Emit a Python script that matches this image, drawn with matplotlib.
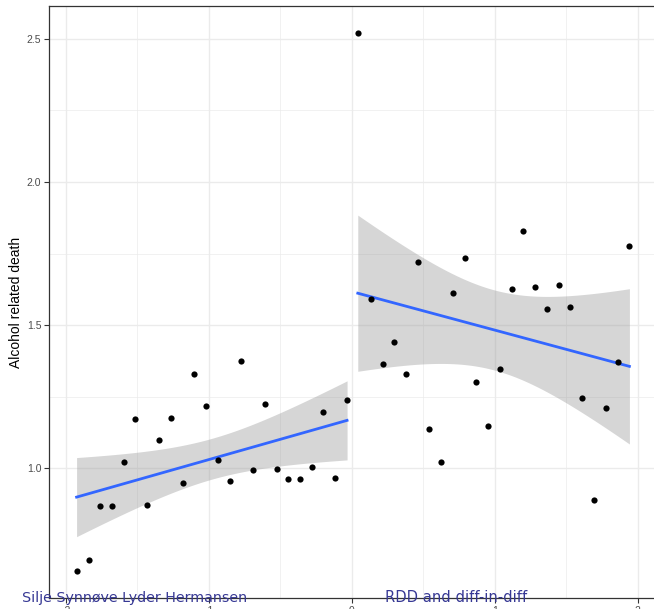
import numpy as np
import matplotlib.pyplot as plt

# running variable (centered) and outcome
x_left = [-1.925, -1.841, -1.762, -1.678, -1.594, -1.513, -1.431, -1.350,
          -1.266, -1.184, -1.103, -1.021, -0.937, -0.855, -0.774, -0.692,
          -0.608, -0.524, -0.443, -0.362, -0.280, -0.198, -0.114, -0.033]
y_left = [0.641, 0.679, 0.868, 0.868, 1.021, 1.172, 0.872, 1.099,
          1.176, 0.950, 1.330, 1.218, 1.029, 0.955, 1.374, 0.995,
          1.226, 0.999, 0.963, 0.963, 1.003, 1.197, 0.967, 1.239]

x_right = [0.042, 0.133, 0.215, 0.296, 0.380, 0.462, 0.543, 0.627,
           0.708, 0.790, 0.872, 0.956, 1.037, 1.119, 1.201, 1.285,
           1.366, 1.450, 1.529, 1.613, 1.694, 1.776, 1.860, 1.942]
y_right = [2.521, 1.592, 1.363, 1.443, 1.328, 1.720, 1.137, 1.022,
           1.612, 1.733, 1.303, 1.147, 1.347, 1.627, 1.828, 1.633,
           1.556, 1.639, 1.562, 1.244, 0.888, 1.209, 1.372, 1.777]

x_ticks = [-2, -1, 0, 1, 2]
y_ticks = [1.0, 1.5, 2.0, 2.5]

T_975_DF22 = 2.0739  # t quantile for 95% band, n=24


def lm_band(x, y, n_grid=80):
    """OLS fit with 95% confidence band, like geom_smooth(method='lm')."""
    x = np.asarray(x)
    y = np.asarray(y)
    n = len(x)
    b1, b0 = np.polyfit(x, y, 1)
    resid = y - (b0 + b1 * x)
    s = np.sqrt(np.sum(resid ** 2) / (n - 2))
    xg = np.linspace(x.min(), x.max(), n_grid)
    yg = b0 + b1 * xg
    se = s * np.sqrt(1 / n + (xg - x.mean()) ** 2 / np.sum((x - x.mean()) ** 2))
    return xg, yg, yg - T_975_DF22 * se, yg + T_975_DF22 * se


fig = plt.figure(figsize=(6.54, 6.09), dpi=100)
ax = fig.add_axes([49 / 654, 11 / 609, 608 / 654, 592 / 609])

for xs, ys in [(x_left, y_left), (x_right, y_right)]:
    xg, yg, lo, hi = lm_band(xs, ys)
    ax.fill_between(xg, lo, hi, color='#999999', alpha=0.4, lw=0, zorder=2)
    ax.plot(xg, yg, color='#3366FF', lw=2, zorder=3)
    ax.scatter(xs, ys, s=20, color='black', zorder=4, linewidths=0)

ax.set_xlim(-2.118, 2.135)
ax.set_ylim(0.547, 2.615)
ax.set_xticks(x_ticks)
ax.set_yticks(y_ticks)
ax.set_xticks([-1.5, -0.5, 0.5, 1.5], minor=True)
ax.set_yticks([1.25, 1.75, 2.25], minor=True)
ax.set_xticklabels([str(t) for t in x_ticks])
ax.set_yticklabels([f"{t:.1f}" for t in y_ticks])

ax.grid(True, which='major', color='#ebebeb', lw=1.0, zorder=0)
ax.grid(True, which='minor', color='#ebebeb', lw=0.5, zorder=0)
ax.set_axisbelow(True)
ax.tick_params(which='major', direction='out', length=3.5, width=0.8,
               color='#333333', labelcolor='#4d4d4d', labelsize=7.5, pad=2)
ax.tick_params(which='minor', length=0)
for sp in ax.spines.values():
    sp.set_color('#333333')
    sp.set_linewidth(0.9)
for lab in ax.get_xticklabels() + ax.get_yticklabels():
    lab.set_family(['Liberation Sans', 'DejaVu Sans'])

ax.set_ylabel("Alcohol related death", fontsize=10, family=['Liberation Sans', 'DejaVu Sans'],
              labelpad=3)

# footer of the slide, drawn over the axis
fig.text(22 / 654, 1 - 602 / 609, "Silje Synnøve Lyder Hermansen", color='#363894',
         fontsize=10.3, ha='left', va='baseline')
fig.text(385 / 654, 1 - 602 / 609, "RDD and diff-in-diff", color='#363894',
         fontsize=10.6, ha='left', va='baseline')

fig.savefig("out.png", dpi=100)
